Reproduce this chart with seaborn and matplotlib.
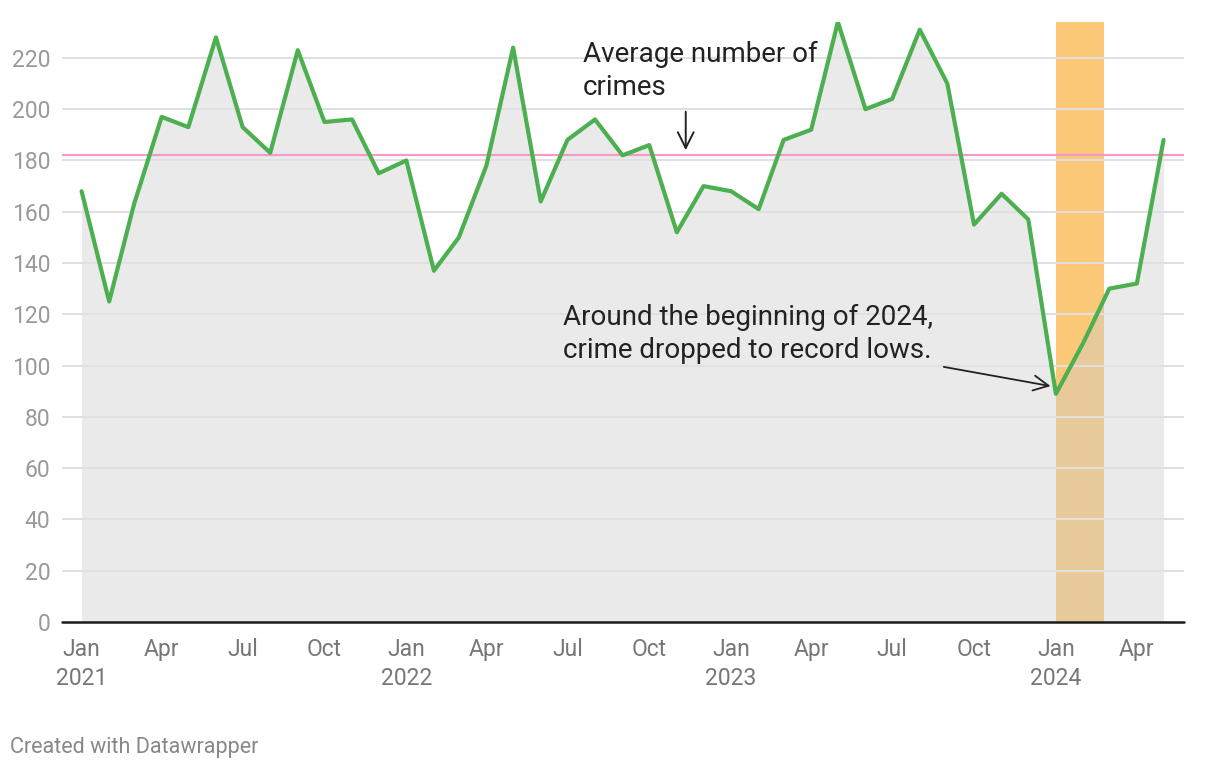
import pandas as pd
import matplotlib.pyplot as plt
import seaborn as sns

# Monthly crime counts, Jan 2021 - May 2024
months = pd.date_range('2021-01-01', '2024-05-01', freq='MS')
crimes = [168, 125, 163, 197, 193, 228, 193, 183, 223, 195, 196, 175,
          180, 137, 150, 178, 224, 164, 188, 196, 182, 186, 152, 170,
          168, 161, 188, 192, 234, 200, 204, 231, 210, 155, 167, 157,
          89, 109, 130, 132, 188]
average = 182
highlight = ['2024-01-01', '2024-02-24']
y_ticks = list(range(0, 221, 20))
tick_months = pd.date_range('2021-01-01', '2024-04-01', freq='QS')
tick_labels = [d.strftime('%b\n%Y') if d.month == 1 else d.strftime('%b') for d in tick_months]

df = pd.DataFrame({'month': months, 'crimes': crimes})

sns.set_theme(style='white')
plt.rcParams['font.family'] = ['Roboto', 'DejaVu Sans']

fig = plt.figure(figsize=(12.2, 7.68), dpi=100)
ax = fig.add_axes([62 / 1220, 146 / 768, 1122 / 1220, 600 / 768])

# highlighted period
ax.axvspan(pd.Timestamp(highlight[0]), pd.Timestamp(highlight[1]),
           color='#fcc978', lw=0, zorder=0)

# area under the line
ax.fill_between(df['month'], df['crimes'], 0, color='#cbcbcb', alpha=0.4, lw=0, zorder=1)

# gridlines
for t in y_ticks[1:]:
    ax.axhline(t, color='#e0e0e0', lw=1.4, zorder=2)

# average line
ax.axhline(average, color='#f49ac8', lw=1.6, zorder=3)

sns.lineplot(data=df, x='month', y='crimes', color='#4caf50', linewidth=3.0, ax=ax, zorder=4)

ax.axhline(0, color='#1a1a1a', lw=1.8, zorder=5, clip_on=False)

ax.set_xlim(pd.Timestamp('2020-12-10'), pd.Timestamp('2024-05-24'))
ax.set_ylim(0, 234)
ax.set_yticks(y_ticks)
ax.set_xticks(tick_months)
ax.set_xticklabels(tick_labels, linespacing=1.33)
ax.set_xlabel('')
ax.set_ylabel('')
ax.tick_params(axis='y', length=0, pad=8.5, labelsize=16.5, labelcolor='#9a9a9a')
ax.tick_params(axis='x', length=0, pad=11.5, labelsize=16.5, labelcolor='#777777')
for s in ax.spines.values():
    s.set_visible(False)
ax.grid(False)

# annotations
ax.text(pd.Timestamp('2022-07-18'), 226.5, 'Average number of\ncrimes',
        ha='left', va='top', fontsize=20, color='#222222', linespacing=1.29)
ax.annotate('', xy=(pd.Timestamp('2022-11-11'), 184), xytext=(pd.Timestamp('2022-11-11'), 199),
            arrowprops=dict(arrowstyle='->,head_length=0.6,head_width=0.3', mutation_scale=19,
                            color='#222222', lw=1.4, shrinkA=0, shrinkB=0))

ax.text(pd.Timestamp('2022-06-26'), 124, 'Around the beginning of 2024,\ncrime dropped to record lows.',
        ha='left', va='top', fontsize=20, color='#222222', linespacing=1.29)
ax.annotate('', xy=(pd.Timestamp('2023-12-26'), 92), xytext=(pd.Timestamp('2023-08-28'), 99.5),
            arrowprops=dict(arrowstyle='->,head_length=0.6,head_width=0.3', mutation_scale=18,
                            color='#222222', lw=1.3, shrinkA=0, shrinkB=0))

fig.text(10 / 1220, 15 / 768, 'Created with Datawrapper', fontsize=15.5, color='#888888',
         ha='left', va='baseline')

plt.savefig('out.png', dpi=100)
